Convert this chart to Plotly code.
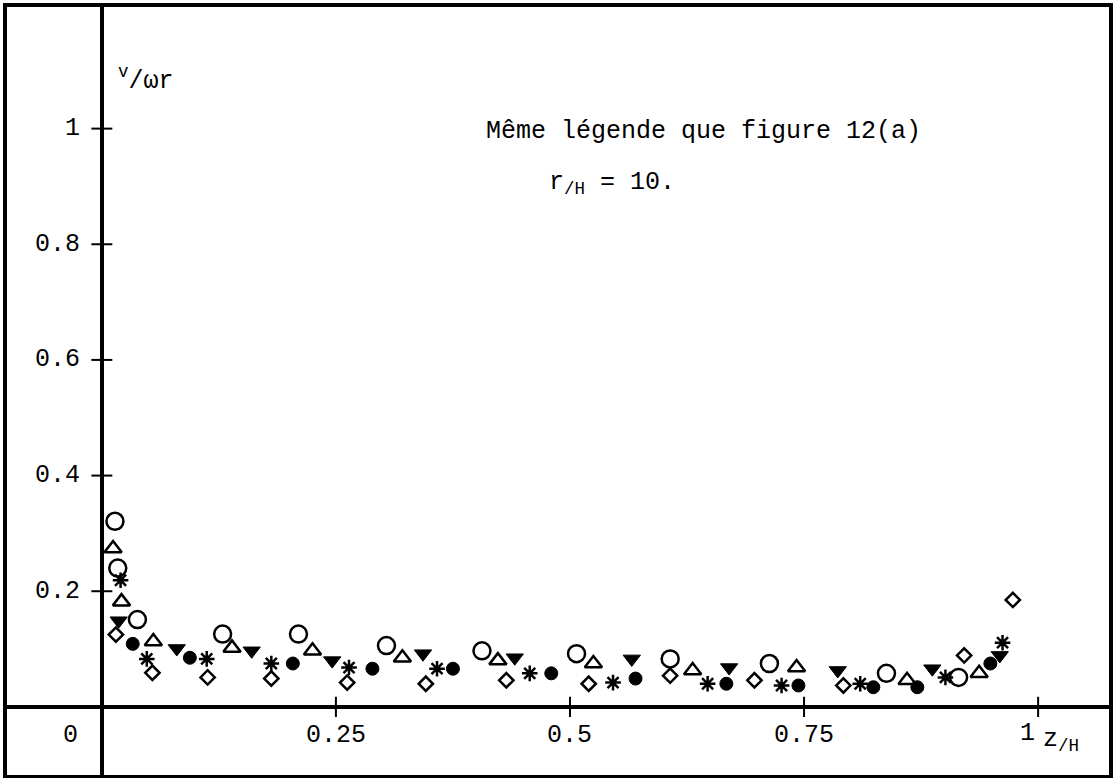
import plotly.graph_objects as go

# ---- data (z/H , v/(omega r)) ----
z_circle = [0.014, 0.017, 0.038, 0.129, 0.210, 0.304, 0.406, 0.507, 0.607, 0.713, 0.838, 0.915]
v_circle = [0.321, 0.240, 0.151, 0.126, 0.126, 0.106, 0.097, 0.092, 0.083, 0.075, 0.058, 0.051]

z_tri_up = [0.012, 0.021, 0.055, 0.139, 0.225, 0.321, 0.423, 0.525, 0.631, 0.742, 0.860, 0.937]
v_tri_up = [0.274, 0.182, 0.113, 0.102, 0.097, 0.085, 0.080, 0.075, 0.063, 0.068, 0.046, 0.058]

z_tri_down = [0.018, 0.080, 0.160, 0.246, 0.343, 0.441, 0.566, 0.670, 0.786, 0.887, 0.959]
v_tri_down = [0.149, 0.101, 0.097, 0.080, 0.092, 0.085, 0.083, 0.068, 0.063, 0.066, 0.089]

z_star = [0.020, 0.048, 0.112, 0.181, 0.264, 0.358, 0.457, 0.546, 0.647, 0.726, 0.810, 0.901, 0.962]
v_star = [0.219, 0.083, 0.083, 0.075, 0.068, 0.066, 0.058, 0.042, 0.040, 0.037, 0.040, 0.051, 0.111]

z_dot = [0.033, 0.094, 0.204, 0.289, 0.375, 0.480, 0.570, 0.667, 0.744, 0.824, 0.871, 0.949]
v_dot = [0.109, 0.085, 0.075, 0.066, 0.066, 0.058, 0.049, 0.040, 0.037, 0.034, 0.034, 0.075]

z_diamond = [0.015, 0.054, 0.113, 0.181, 0.262, 0.346, 0.432, 0.520, 0.607, 0.697, 0.792, 0.921, 0.973]
v_diamond = [0.125, 0.059, 0.051, 0.049, 0.042, 0.040, 0.046, 0.040, 0.054, 0.046, 0.037, 0.089, 0.185]

x_tick_vals = [0.25, 0.5, 0.75, 1.0]
x_tick_text = ["0.25", "0.5", "0.75", "1"]
y_tick_vals = [0.2, 0.4, 0.6, 0.8, 1.0]
y_tick_text = ["0.2", "0.4", "0.6", "0.8", "1"]

FONT = "Liberation Mono"
FS = 25

fig = go.Figure()

def add(z, v, symbol, size, lw=2.5):
    fig.add_trace(go.Scatter(
        x=z, y=v, mode="markers", showlegend=False, hoverinfo="skip",
        marker=dict(symbol=symbol, size=size, color="black",
                    line=dict(color="black", width=lw))))

add(z_circle, v_circle, "circle-open", 17)
add(z_tri_up, v_tri_up, "triangle-up-open", 15)
add(z_tri_down, v_tri_down, "triangle-down", 15, 1)
add(z_star, v_star, "asterisk-open", 13, 2.5)
add(z_dot, v_dot, "circle", 13, 1)
add(z_diamond, v_diamond, "diamond-open", 11)

X0, X1 = -0.1013, 1.0757
Y0, Y1 = -0.1178, 1.2103
dx, dy = 0.0112, 0.0175

shapes = []
for t in x_tick_vals:
    shapes.append(dict(type="line", x0=t, x1=t, y0=-dy, y1=dy, xref="x", yref="y",
                       line=dict(color="black", width=2)))
for t in y_tick_vals:
    shapes.append(dict(type="line", x0=-dx, x1=dx, y0=t, y1=t, xref="x", yref="y",
                       line=dict(color="black", width=2)))

ann = []
for t, s in zip(x_tick_vals[:-1], x_tick_text[:-1]):
    ann.append(dict(x=t, y=-0.049, text=s, showarrow=False, xanchor="center", yanchor="middle"))
ann.append(dict(x=0.999, y=-0.046, text="1", showarrow=False, xanchor="right", yanchor="middle"))
ann.append(dict(x=1.003, y=-0.058, text="z<sub>/H</sub>", showarrow=False, xanchor="left", yanchor="middle"))
for t, s in zip(y_tick_vals, y_tick_text):
    ann.append(dict(x=-0.021, y=t, text=s, showarrow=False, xanchor="right", yanchor="middle"))
ann.append(dict(x=-0.034, y=-0.049, text="0", showarrow=False, xanchor="center", yanchor="middle"))
ann.append(dict(x=0.015, y=1.085, text="<sup>v</sup>/ωr", showarrow=False, xanchor="left", yanchor="middle"))
ann.append(dict(x=0.408, y=0.995, text="Même légende que figure 12(a)", showarrow=False,
                xanchor="left", yanchor="middle"))
ann.append(dict(x=0.475, y=0.905, text="r<sub>/H</sub> = 10.", showarrow=False,
                xanchor="left", yanchor="middle"))
for a in ann:
    a["font"] = dict(family=FONT, size=FS, color="black")

fig.update_layout(
    width=1116, height=778,
    margin=dict(l=7, r=5, t=3, b=3),
    paper_bgcolor="white", plot_bgcolor="white",
    shapes=shapes, annotations=ann,
    xaxis=dict(range=[X0, X1], showgrid=False, showticklabels=False, ticks="",
               zeroline=True, zerolinecolor="black", zerolinewidth=4,
               showline=True, linecolor="black", linewidth=4, mirror=True, fixedrange=True),
    yaxis=dict(range=[Y0, Y1], showgrid=False, showticklabels=False, ticks="",
               zeroline=True, zerolinecolor="black", zerolinewidth=4,
               showline=True, linecolor="black", linewidth=4, mirror=True, fixedrange=True),
)

fig.write_html("out.html")
